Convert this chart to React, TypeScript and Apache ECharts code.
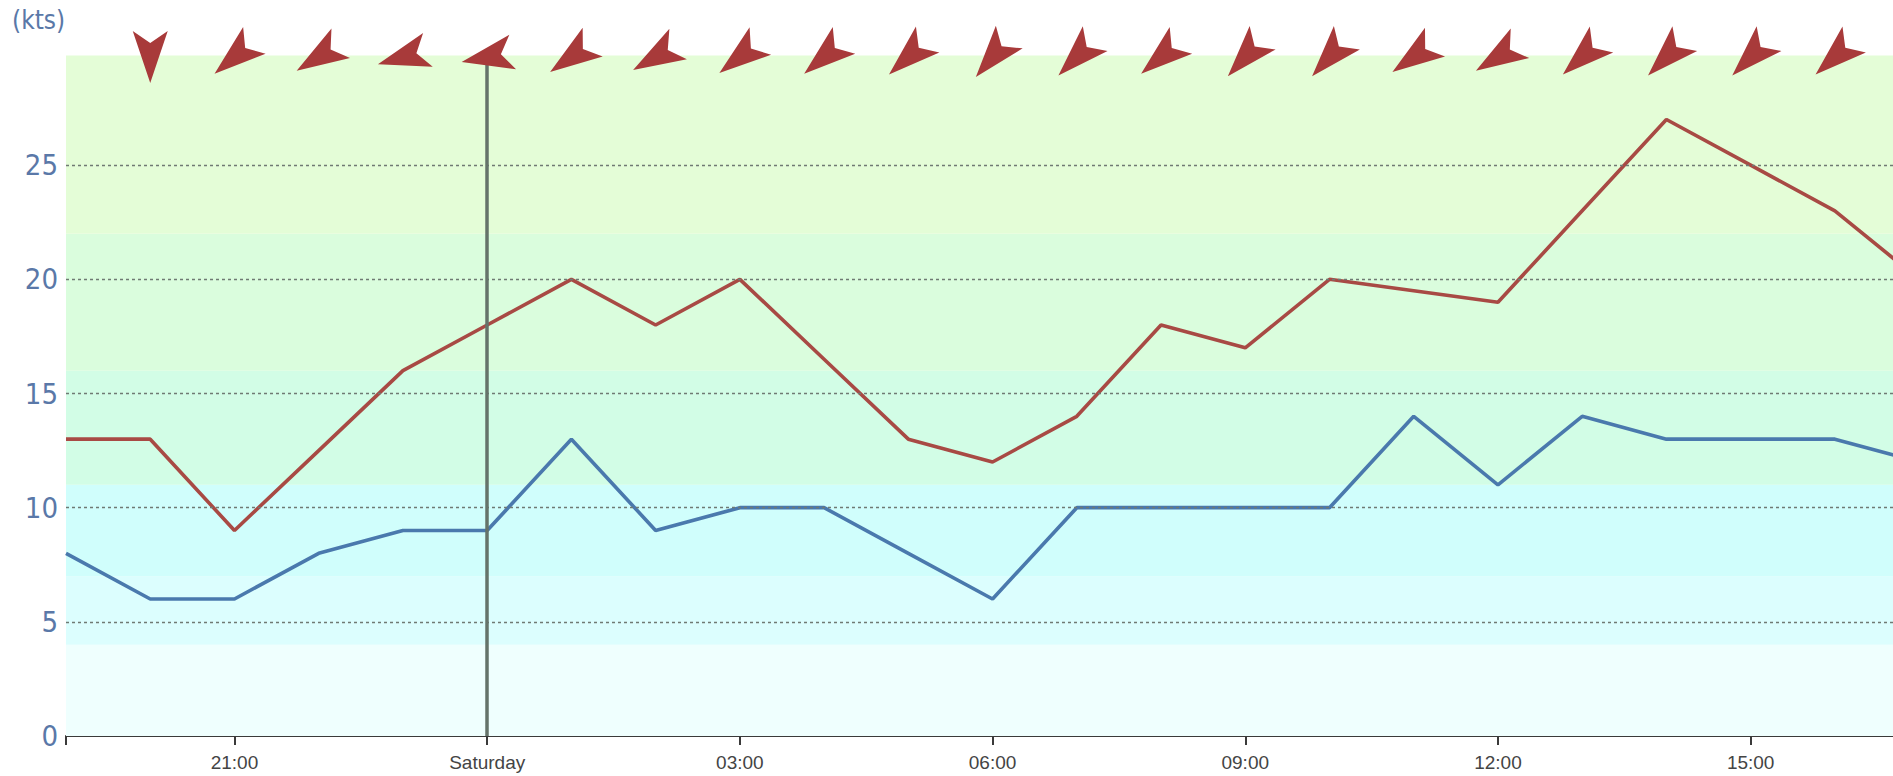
import React, { useEffect, useRef } from "react";
import * as echarts from "echarts";

// hours counted from Friday 00:00
const hours = [19, 20, 21, 22, 23, 24, 25, 26, 27, 28, 29, 30, 31, 32, 33, 34, 35, 36, 37, 38, 39, 40, 41];
const gust = [13, 13, 9, 12.5, 16, 18, 20, 18, 20, 16.5, 13, 12, 14, 18, 17, 20, 19.5, 19, 23, 27, 25, 23, 20];
const wind = [8, 6, 6, 8, 9, 9, 13, 9, 10, 10, 8, 6, 10, 10, 10, 10, 14, 11, 14, 13, 13, 13, 12];

const arrowHours = [20, 21, 22, 23, 24, 25, 26, 27, 28, 29, 30, 31, 32, 33, 34, 35, 36, 37, 38, 39, 40];
const windDir = [0, 50, 58, 74, 79, 55, 60, 52, 50, 48, 40, 45, 50, 42, 42, 55, 58, 48, 45, 45, 48];

const tickHours = [21, 24, 27, 30, 33, 36, 39];
const tickLabels = ["21:00", "Saturday", "03:00", "06:00", "09:00", "12:00", "15:00"];
const gridValues = [5, 10, 15, 20, 25];

const bandEdges = [0, 4, 7, 11, 16, 22, 29.8];
const bandColors = ["#effffe", "#dcfefe", "#d0fefc", "#d2fde6", "#dafddd", "#e4fdd7"];

const ARROW = "path://M0,0 L17.5,12 L35,0 L17.5,52 Z";

export default function App() {
  const ref = useRef<HTMLDivElement>(null);
  useEffect(() => {
    if (!ref.current) return;
    const chart = echarts.init(ref.current, undefined, { renderer: "svg" });
    const labelColor = "#5a78a8";
    chart.setOption({
      animation: false,
      backgroundColor: "#ffffff",
      grid: { left: 66, right: 0, top: 51, bottom: 40 },
      graphic: [
        {
          type: "text",
          left: 12,
          top: 7,
          style: {
            text: "(kts)",
            fill: labelColor,
            font: '26px "Liberation Sans Narrow", "DejaVu Sans Condensed", sans-serif',
          },
        },
      ],
      xAxis: {
        type: "value",
        min: 19,
        max: 40.69,
        axisLine: { show: true, lineStyle: { color: "#3a3a3a", width: 2 } },
        axisTick: {
          show: true,
          customValues: [19, ...tickHours],
          length: 9,
          lineStyle: { color: "#3a3a3a", width: 2 },
        },
        axisLabel: {
          customValues: tickHours,
          formatter: (v: number) => {
            const i = tickHours.indexOf(Math.round(v));
            return i >= 0 ? tickLabels[i] : "";
          },
          color: "#444",
          fontSize: 19,
          fontFamily: '"Liberation Sans", Arial, sans-serif',
          margin: 17,
        },
        splitLine: { show: false },
      },
      yAxis: {
        type: "value",
        min: 0,
        max: 30,
        interval: 5,
        axisLine: { show: false },
        axisTick: { show: false },
        splitLine: { show: false },
        axisLabel: {
          formatter: (v: number) => (v >= 30 ? "" : String(v)),
          color: labelColor,
          fontSize: 29,
          fontFamily: '"Liberation Sans Narrow", "DejaVu Sans Condensed", sans-serif',
          margin: 8,
        },
      },
      series: [
        {
          name: "bands",
          type: "line",
          data: [],
          silent: true,
          markArea: {
            silent: true,
            data: bandColors.map((c, i) => [
              { yAxis: bandEdges[i], itemStyle: { color: c } },
              { yAxis: bandEdges[i + 1] },
            ]),
          },
          markLine: {
            silent: true,
            symbol: "none",
            label: { show: false },
            lineStyle: { color: "#6f7a73", width: 1.3, type: [3, 3] },
            data: gridValues.map((v) => ({ yAxis: v })),
          },
          z: 1,
        },
        {
          name: "day",
          type: "line",
          data: [],
          silent: true,
          markLine: {
            silent: true,
            symbol: "none",
            label: { show: false },
            lineStyle: { color: "#65736a", width: 3.5, type: "solid" },
            data: [{ xAxis: 24 }],
          },
          z: 2,
        },
        {
          name: "Gust",
          type: "line",
          data: hours.map((h, i) => [h, gust[i]]),
          showSymbol: false,
          symbol: "none",
          lineStyle: { color: "#a84a44", width: 3.6 },
          z: 4,
        },
        {
          name: "Wind",
          type: "line",
          data: hours.map((h, i) => [h, wind[i]]),
          showSymbol: false,
          symbol: "none",
          lineStyle: { color: "#4a79ad", width: 3.6 },
          z: 4,
        },
        {
          name: "Direction",
          type: "scatter",
          clip: false,
          symbol: ARROW,
          symbolSize: [35, 52],
          symbolOffset: [0, 6],
          itemStyle: { color: "#a83a3a", opacity: 1 },
          data: arrowHours.map((h, i) => ({ value: [h, 30], symbolRotate: -windDir[i] })),
          z: 10,
        },
      ],
    });
    return () => chart.dispose();
  }, []);
  return (
    <div
      ref={ref}
      style={{ position: "fixed", left: 0, top: 0, width: 1893, height: 776 }}
    />
  );
}
